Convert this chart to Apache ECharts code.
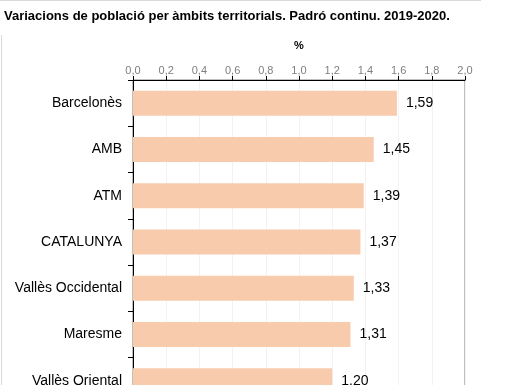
<!DOCTYPE html>
<html>
<head>
<meta charset="utf-8">
<script src="https://cdn.jsdelivr.net/npm/echarts@6/dist/echarts.min.js"></script>
<style>
html,body{margin:0;padding:0;background:#fff;}
#c{width:522px;height:385px;}
</style>
</head>
<body>
<div id="c"></div>
<script>
var categories = ['Barcelonès', 'AMB', 'ATM', 'CATALUNYA', 'Vallès Occidental', 'Maresme', 'Vallès Oriental'];
var values = [1.59, 1.45, 1.39, 1.37, 1.33, 1.31, 1.20];
var titleText = 'Variacions de població per àmbits territorials. Padró continu. 2019-2020.';
var axisName = '%';

var fmt = function (v) { return Number(v).toFixed(1).replace('.', ','); };
var chart = echarts.init(document.getElementById('c'), null, {renderer: 'canvas'});
chart.setOption({
  animation: false,
  backgroundColor: '#fff',
  textStyle: {fontFamily: 'Liberation Sans, Arial, sans-serif'},
  title: {
    text: titleText,
    left: -1, top: 5,
    textStyle: {fontSize: 13, fontWeight: 'bold', color: '#000', fontFamily: 'Liberation Sans, Arial, sans-serif'}
  },
  graphic: [
    {type: 'line', shape: {x1: 0, y1: 0.5, x2: 481, y2: 0.5}, style: {stroke: '#d9d9d9', lineWidth: 1}},
    {type: 'line', shape: {x1: 1.5, y1: 35, x2: 1.5, y2: 385}, style: {stroke: '#d9d9d9', lineWidth: 1}}
  ],
  grid: {
    left: 133, right: 57, top: 80, height: 324,
    outerBoundsMode: 'none',
    show: true, borderColor: '#808080', borderWidth: 1, backgroundColor: 'transparent'
  },
  xAxis: {
    type: 'value', position: 'top', min: 0, max: 2, interval: 0.2,
    name: axisName, nameLocation: 'middle', nameGap: 29,
    nameTextStyle: {fontSize: 11, fontWeight: 'bold', color: '#000'},
    axisLine: {show: true, lineStyle: {color: '#000', width: 1}},
    axisTick: {show: true, length: 4, lineStyle: {color: '#000'}},
    axisLabel: {formatter: fmt, color: '#808080', fontSize: 11, margin: 4},
    splitLine: {show: true, lineStyle: {color: '#f2f2f2', width: 1}}
  },
  yAxis: {
    type: 'category', data: categories, inverse: true,
    axisLine: {show: true, lineStyle: {color: '#000', width: 1}},
    axisTick: {show: true, length: 5, lineStyle: {color: '#000'}},
    axisLabel: {color: '#000', fontSize: 14, margin: 11},
    splitLine: {show: false}
  },
  series: [{
    type: 'bar', data: values, barCategoryGap: '46%',
    itemStyle: {color: '#f8cbad'},
    label: {
      show: true, position: 'right', distance: 9, color: '#000', fontSize: 14,
      formatter: function (p) { return p.value.toFixed(2).replace('.', ','); }
    }
  }]
});
</script>
</body>
</html>
